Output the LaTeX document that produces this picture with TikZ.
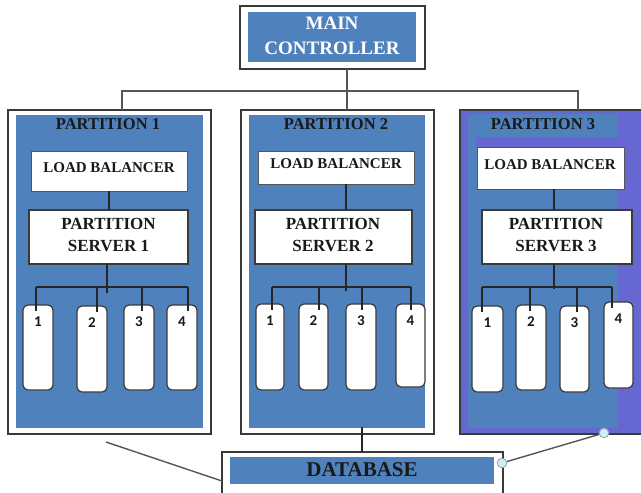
\documentclass[tikz,border=0pt]{standalone}
\usepackage{fontspec}
\setmainfont{Liberation Serif}
\newfontfamily\numfont{Carlito}
\usetikzlibrary{fit}
\definecolor{pblue}{HTML}{4F81BD}
\definecolor{ppurple}{HTML}{6767D2}
\definecolor{edge}{HTML}{3A3A3A}
\definecolor{gline}{HTML}{555555}
\definecolor{handlefill}{HTML}{D4EEF2}
\definecolor{handleedge}{HTML}{8FAFB5}
\begin{document}
\begin{tikzpicture}[x=1pt,y=-1pt,
  outerbox/.style={draw=edge, line width=1.4pt, fill=white, inner sep=0pt, outer sep=0pt},
  bluefill/.style={fill=pblue, inner sep=0pt, outer sep=0pt},
  purplefill/.style={fill=ppurple, inner sep=0pt, outer sep=0pt},
  lbbox/.style={draw=gline, line width=0.8pt, fill=white, inner sep=0pt, outer sep=0pt},
  psbox/.style={draw=edge, line width=1.2pt, fill=white, inner sep=0pt, outer sep=0pt},
  srvbox/.style={draw=edge, line width=1.2pt, fill=white, rounded corners=5pt, inner sep=0pt, outer sep=0pt},
  hdrtext/.style={font=\bfseries\fontsize{16.5}{18}\selectfont, text=black!90, inner sep=0pt},
  lbtext/.style={font=\bfseries\fontsize{15}{18}\selectfont, text=black!90, inner sep=0pt},
  pstext/.style={font=\bfseries\fontsize{17}{22}\selectfont, text=black!90, align=center, inner sep=0pt},
  numtext/.style={font=\numfont\bfseries\fontsize{15}{17}\selectfont, text=black!90, inner sep=0pt},
  wire/.style={draw=black!85, line width=1.2pt},
  gconn/.style={draw=gline, line width=1.4pt},
  handle/.style={circle, draw=handleedge, fill=handlefill, line width=0.9pt, minimum size=9.5pt, inner sep=0pt}
]
\useasboundingbox (0,0) rectangle (641,493);

% ---------- main controller ----------
\node[outerbox, fit={(240,6) (425,69)}] (mc) {};
\node[bluefill, fit={(248,12) (416,62)}] (mcin) {};
\node[font=\bfseries\fontsize{19}{25}\selectfont, text=white, align=center, inner sep=0pt] (mct) at (332,36) {MAIN\\CONTROLLER};

% ---------- partition 1 ----------
\node[outerbox, fit={(8,110) (211,434)}] (p1) {};
\node[bluefill, fit={(16,115) (203,428)}] (p1in) {};
\node[hdrtext] (p1t) at (108,124) {PARTITION 1};
\node[lbbox, fit={(31,151) (187,191)}] (lb1) {};
\node[lbtext] (lb1t) at (109,168) {LOAD BALANCER};
\node[psbox, fit={(29,210) (188,264)}] (ps1) {};
\node[pstext] (ps1t) at (108.5,235) {PARTITION\\SERVER 1};

% ---------- partition 2 ----------
\node[outerbox, fit={(241,110) (434,434)}] (p2) {};
\node[bluefill, fit={(249,115) (425,428)}] (p2in) {};
\node[hdrtext] (p2t) at (336,124) {PARTITION 2};
\node[lbbox, fit={(258,151) (414,184)}] (lb2) {};
\node[lbtext] (lb2t) at (336,164) {LOAD BALANCER};
\node[psbox, fit={(255,210) (412,264)}] (ps2) {};
\node[pstext] (ps2t) at (333,235) {PARTITION\\SERVER 2};

% ---------- partition 3 ----------
\node[purplefill, fit={(460,110) (641,434)}] (p3) {};
\draw[draw=edge, line width=1.4pt] (p3.north east) -- (p3.north west) -- (p3.south west) -- (p3.south east);
\node[bluefill, fit={(468,114) (618,428)}] (p3in) {};
\node[purplefill, fit={(476,137) (618,147)}] (p3band) {};
\node[hdrtext] (p3t) at (543,124) {PARTITION 3};
\node[lbbox, fit={(477,147) (624,189)}] (lb3) {};
\node[lbtext] (lb3t) at (550,165) {LOAD BALANCER};
\node[psbox, fit={(482,210) (632,264)}] (ps3) {};
\node[pstext] (ps3t) at (556,235) {PARTITION\\SERVER 3};

% ---------- servers ----------
\foreach \n/\a/\b/\t/\bt/\d/\l in {
  11/23/53/305/390/36/1, 12/77/107/306/392/97/2, 13/124/154/305/390/142/3, 14/167/197/305/390/188/4,
  21/256/284/304/390/272/1, 22/299/328/304/390/319/2, 23/346/376/304/390/362/3, 24/396/425/304/387/411/4,
  31/472/503/306/392/482/1, 32/516/546/305/390/530/2, 33/560/589/306/392/577/3, 34/604/633/302/388/612/4} {
  \node[srvbox, fit={(\a,\t) (\b,\bt)}] (s\n) {};
  \node[numtext] (n\n) at ([yshift=-17pt]s\n.north) {\l};
  \draw[wire] (\d,287) -- (\d,\t+6);
}

% ---------- wiring inside partitions ----------
\draw[wire] (lb1.south) -- (lb1.south |- ps1.north);
\draw[wire] (ps1.south -| 107,0) -- (107,293);
\draw[wire] (36,287) -- (188,287);

\draw[wire] (lb2.south -| 346,0) -- (ps2.north -| 346,0);
\draw[wire] (ps2.south -| 346,0) -- (346,291);
\draw[wire] (272,287) -- (411,287);

\draw[wire] (lb3.south -| 554,0) -- (ps3.north -| 554,0);
\draw[wire] (ps3.south -| 554,0) -- (554,289);
\draw[wire] (482,287) -- (612,287);

% ---------- controller to partitions ----------
\coordinate (j) at (347,91);
\coordinate (hl) at (122,91);
\coordinate (hr) at (578,91);
\draw[gconn] (mc.south -| j) -- (p2.north -| j);
\draw[gconn] (p1.north -| hl) -- (hl) -- (hr) -- (p3.north -| hr);

% ---------- database ----------
\node[fill=white, inner sep=0pt, outer sep=0pt, fit={(222,452) (503,493)}] (db) {};
\draw[draw=edge, line width=1.3pt] (db.south west) -- (db.north west) -- (db.north east) -- (db.south east);
\node[bluefill, fit={(230,457) (494,484)}] (dbin) {};
\node[font=\bfseries\fontsize{21}{24}\selectfont, text=black!90, inner sep=0pt] (dbt) at (362,470) {DATABASE};

\coordinate (p1L) at (106,442);
\coordinate (dbL) at (222,481);
\draw[gconn] (p1L) -- (dbL);
\draw[wire] (362,427) -- (db.north -| 362,0);
\node[handle] (h1) at (502,463) {};
\node[handle] (h2) at (604,433) {};
\draw[gconn] (h1) -- (h2);
\end{tikzpicture}
\end{document}
